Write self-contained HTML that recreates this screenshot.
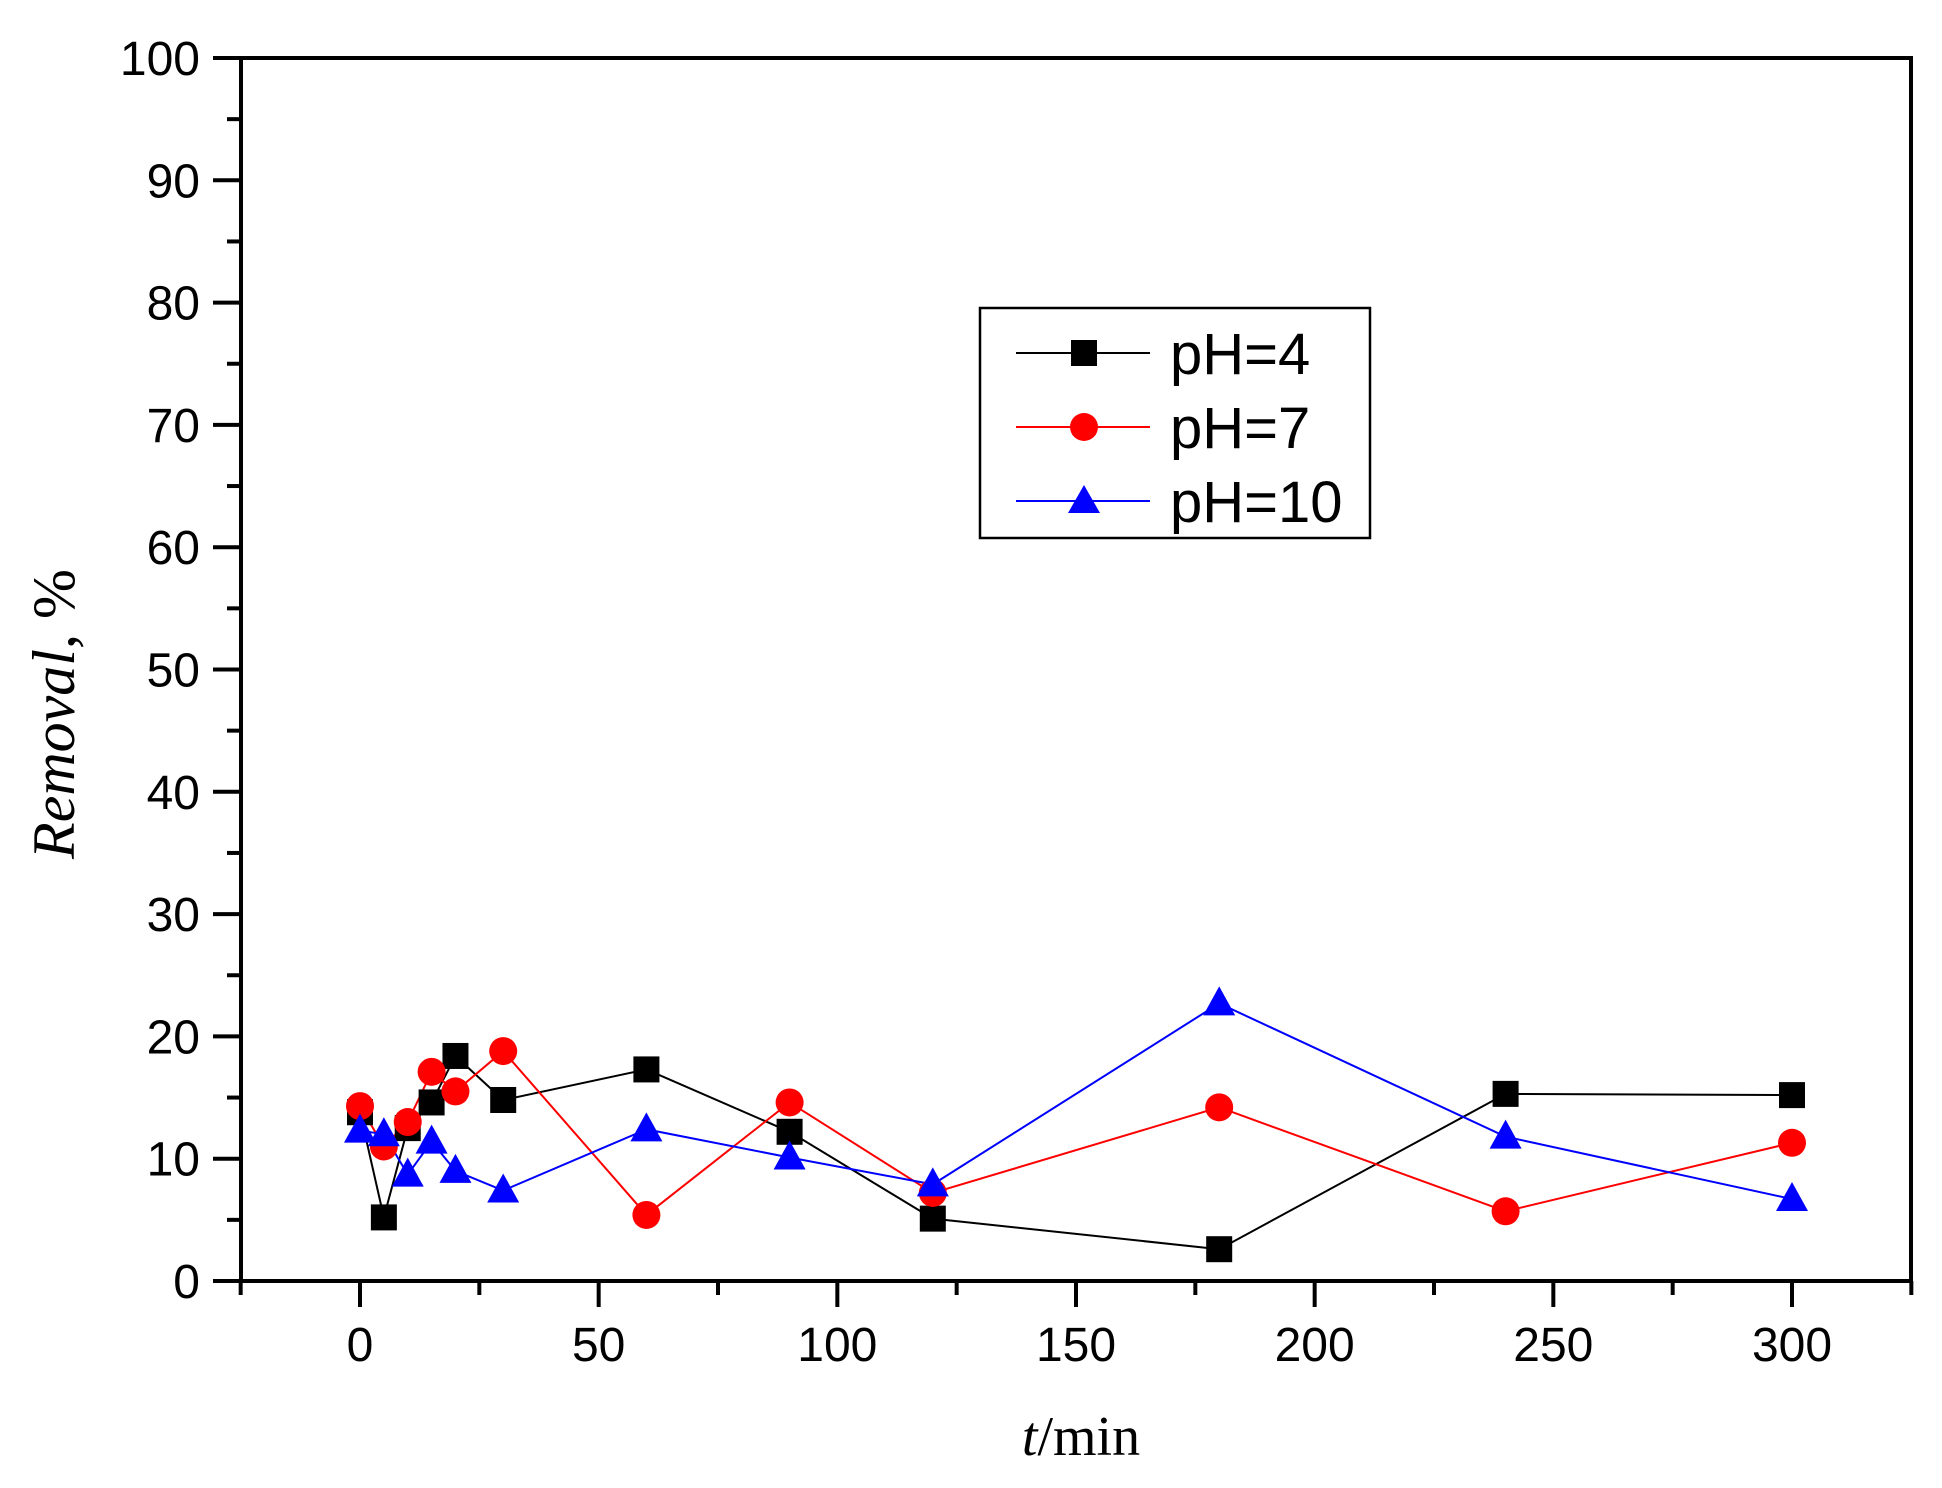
<!DOCTYPE html>
<html><head><meta charset="utf-8"><style>body{margin:0;background:#fff}svg{display:block}</style></head>
<body>
<svg id="s" width="1942" height="1488" xmlns="http://www.w3.org/2000/svg" font-family="Liberation Sans, sans-serif">
<rect x="0" y="0" width="1942" height="1488" fill="#fff"/>
<g id="ticks" stroke="#000" stroke-width="4"></g>
<rect x="241" y="58" width="1670" height="1223" fill="none" stroke="#000" stroke-width="4"/>
<g id="labels" font-size="48" fill="#000"></g>
<g id="data"></g>
<text x="74" y="714" font-family="Liberation Serif, serif" font-size="60" text-anchor="middle" transform="rotate(-90 74 714)"><tspan font-style="italic">Removal</tspan>, %</text>
<text x="1081" y="1455" font-family="Liberation Serif, serif" font-size="56" text-anchor="middle"><tspan font-style="italic">t</tspan>/min</text>
<rect x="980" y="308" width="390" height="230" fill="#fff" stroke="#000" stroke-width="2.5"/>
<g font-size="58">
<line x1="1016" y1="353" x2="1150" y2="353" stroke="#000" stroke-width="2"/><rect x="1071" y="340" width="26" height="26" fill="#000"/>
<text x="1170" y="374">pH=4</text>
<line x1="1016" y1="427" x2="1150" y2="427" stroke="#f00" stroke-width="2"/><circle cx="1084" cy="427" r="14" fill="#f00"/>
<text x="1170" y="448">pH=7</text>
<line x1="1016" y1="501" x2="1150" y2="501" stroke="#00f" stroke-width="2"/><polygon points="1084,485 1100,513 1068,513" fill="#00f"/>
<text x="1170" y="522">pH=10</text>
</g>
</svg>
<script>
const X=v=>360+(v)*1432/300, Y=v=>1281-v*12.23;
const NS="http://www.w3.org/2000/svg";
function el(p,t,a){const e=document.createElementNS(NS,t);for(const k in a)e.setAttribute(k,a[k]);p.appendChild(e);return e;}
const tk=document.getElementById('ticks'),lb=document.getElementById('labels'),dg=document.getElementById('data');
for(let v=0;v<=100;v+=5){const y=Y(v),maj=v%10==0;el(tk,'line',{x1:241,x2:maj?213:227,y1:y,y2:y});
 if(maj){const t=el(lb,'text',{x:200,y:y+17,'text-anchor':'end'});t.textContent=v;}}
for(let v=-25;v<=325;v+=25){const x=X(v),maj=v%50==0;el(tk,'line',{x1:x,x2:x,y1:1281,y2:maj?1307:1295});
 if(maj&&v>=0&&v<=300){const t=el(lb,'text',{x:x,y:1361,'text-anchor':'middle'});t.textContent=v;}}
const t=[0,5,10,15,20,30,60,90,120,180,240,300];
const S=[
 {c:'#000',m:'s',d:[13.8,5.2,12.5,14.6,18.4,14.8,17.3,12.2,5.1,2.6,15.3,15.2]},
 {c:'#f00',m:'c',d:[14.3,11.0,13.0,17.1,15.5,18.8,5.4,14.6,7.2,14.2,5.7,11.3]},
 {c:'#00f',m:'t',d:[12.3,12.0,8.7,11.4,9.0,7.4,12.4,10.1,7.9,22.7,11.8,6.7]}];
S.forEach(s=>{el(dg,'polyline',{points:t.map((v,i)=>X(v)+','+Y(s.d[i])).join(' '),fill:'none',stroke:s.c,'stroke-width':2});});
S.forEach(s=>{t.forEach((v,i)=>{const x=X(v),y=Y(s.d[i]);
 if(s.m=='s')el(dg,'rect',{x:x-13,y:y-13,width:26,height:26,fill:s.c});
 else if(s.m=='c')el(dg,'circle',{cx:x,cy:y,r:14,fill:s.c});
 else el(dg,'polygon',{points:`${x},${y-17} ${x+16},${y+12} ${x-16},${y+12}`,fill:s.c});});});
</script>
</body></html>
